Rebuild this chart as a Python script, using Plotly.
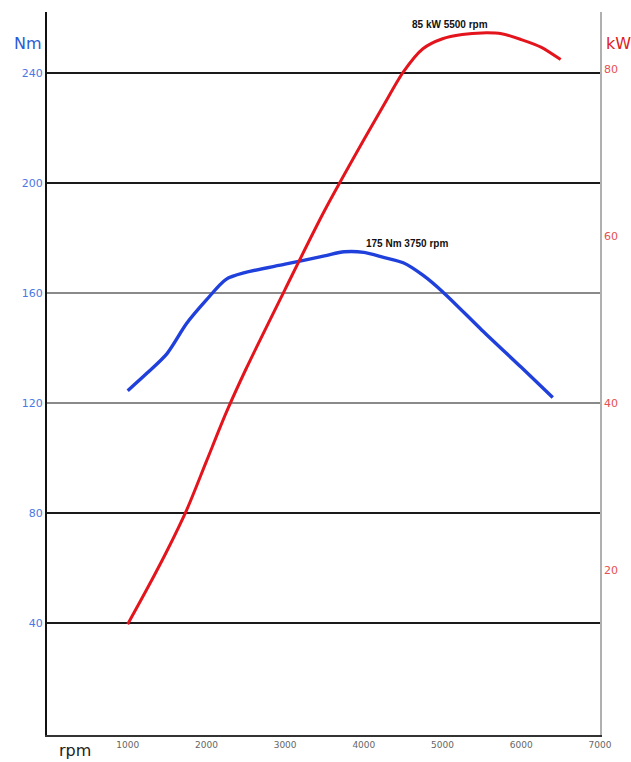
import plotly.graph_objects as go

# ---- data ----
rpm_torque = [1000, 1250, 1500, 1750, 2000, 2250, 2500, 3000, 3500, 3750, 4000,
              4250, 4500, 4750, 5000, 5500, 6000, 6400]
torque_nm = [124.5, 131, 138, 149, 157.5, 165, 167.5, 170.5, 173.5, 175, 174.8,
             173, 171, 166.5, 160.5, 146.5, 133, 122]

rpm_power = [1000, 1250, 1500, 1750, 2000, 2250, 2500, 3000, 3500, 4000, 4250,
             4500, 4750, 5000, 5250, 5500, 5750, 6000, 6250, 6500]
power_kw = [13.5, 17.8, 22.3, 27.2, 33, 38.8, 44, 53.6, 63, 71.5, 75.6,
            79.6, 82.4, 83.6, 84.1, 84.3, 84.2, 83.5, 82.6, 81.1]

x_ticks = [1000, 2000, 3000, 4000, 5000, 6000, 7000]
nm_ticks = [40, 80, 120, 160, 200, 240]
nm_dark_grid = [40, 80, 200, 240]
nm_light_grid = [120, 160]
kw_ticks = [20, 40, 60, 80]

peak_power_label = "85 kW 5500 rpm"
peak_torque_label = "175 Nm 3750 rpm"

BLUE = "#2040dc"
RED = "#e4141c"
NM_RANGE = [-0.7, 262.2]
KW_RANGE = [0.24, 86.8]
TICKFONT = "DejaVu Sans, Verdana, sans-serif"

fig = go.Figure()
fig.add_trace(go.Scatter(x=[None], y=[None], yaxis="y3", showlegend=False, hoverinfo="skip"))
fig.add_trace(go.Scatter(x=[None], y=[None], yaxis="y4", showlegend=False, hoverinfo="skip"))
fig.add_trace(go.Scatter(x=rpm_torque, y=torque_nm, mode="lines", yaxis="y",
                         line=dict(color=BLUE, width=3.4, shape="spline", smoothing=0.8),
                         hoverinfo="x+y", showlegend=False))
fig.add_trace(go.Scatter(x=rpm_power, y=power_kw, mode="lines", yaxis="y2",
                         line=dict(color=RED, width=3, shape="spline", smoothing=0.8),
                         hoverinfo="x+y", showlegend=False))

fig.update_layout(
    width=631, height=762,
    margin=dict(l=47, r=31, t=12, b=27),
    paper_bgcolor="white", plot_bgcolor="white",
    font=dict(family="Liberation Sans, Arial, sans-serif"),
    xaxis=dict(range=[-25, 7000], tickvals=x_ticks, showgrid=False, zeroline=False,
               showline=True, linecolor="#333333", linewidth=2, ticks="",
               tickfont=dict(family=TICKFONT, size=9, color="#666666")),
    yaxis=dict(range=NM_RANGE, tickvals=nm_ticks, showgrid=False, zeroline=False,
               showline=True, linecolor="#111111", linewidth=2, ticks="",
               tickfont=dict(family=TICKFONT, size=11, color="#4a78e4")),
    yaxis2=dict(range=KW_RANGE, tickvals=kw_ticks, overlaying="y", side="right",
                showgrid=False, zeroline=False, showline=True, linecolor="#b0b0b0",
                linewidth=1.5, ticks="", tickfont=dict(family=TICKFONT, size=11, color="#e65050")),
    yaxis3=dict(range=NM_RANGE, tickvals=nm_dark_grid, overlaying="y", showticklabels=False,
                showgrid=True, gridcolor="#1a1a1a", gridwidth=1.6, zeroline=False, ticks=""),
    yaxis4=dict(range=NM_RANGE, tickvals=nm_light_grid, overlaying="y", showticklabels=False,
                showgrid=True, gridcolor="#8a8a8a", gridwidth=1.6, zeroline=False, ticks=""),
)

fig.add_annotation(x=5095, y=85.3, xref="x", yref="y2", text=f"<b>{peak_power_label}</b>",
                   showarrow=False, font=dict(size=10, color="#111111"))
fig.add_annotation(x=4550, y=178, xref="x", yref="y", text=f"<b>{peak_torque_label}</b>",
                   showarrow=False, font=dict(size=10, color="#111111"))

fig.add_annotation(x=-0.0344, y=0.957, xref="paper", yref="paper", text="Nm", showarrow=False,
                   xanchor="center", yanchor="middle",
                   font=dict(family=TICKFONT, size=16, color="#2a5bd7"))
fig.add_annotation(x=1.0335, y=0.957, xref="paper", yref="paper", text="kW", showarrow=False,
                   xanchor="center", yanchor="middle",
                   font=dict(family=TICKFONT, size=16, color="#e02020"))
fig.add_annotation(x=0.051, y=-0.021, xref="paper", yref="paper", text="rpm", showarrow=False,
                   xanchor="center", yanchor="middle",
                   font=dict(family=TICKFONT, size=16, color="#222222"))

fig.write_html("out.html", config={"displayModeBar": False},
               post_script="document.body.style.margin='0';")
